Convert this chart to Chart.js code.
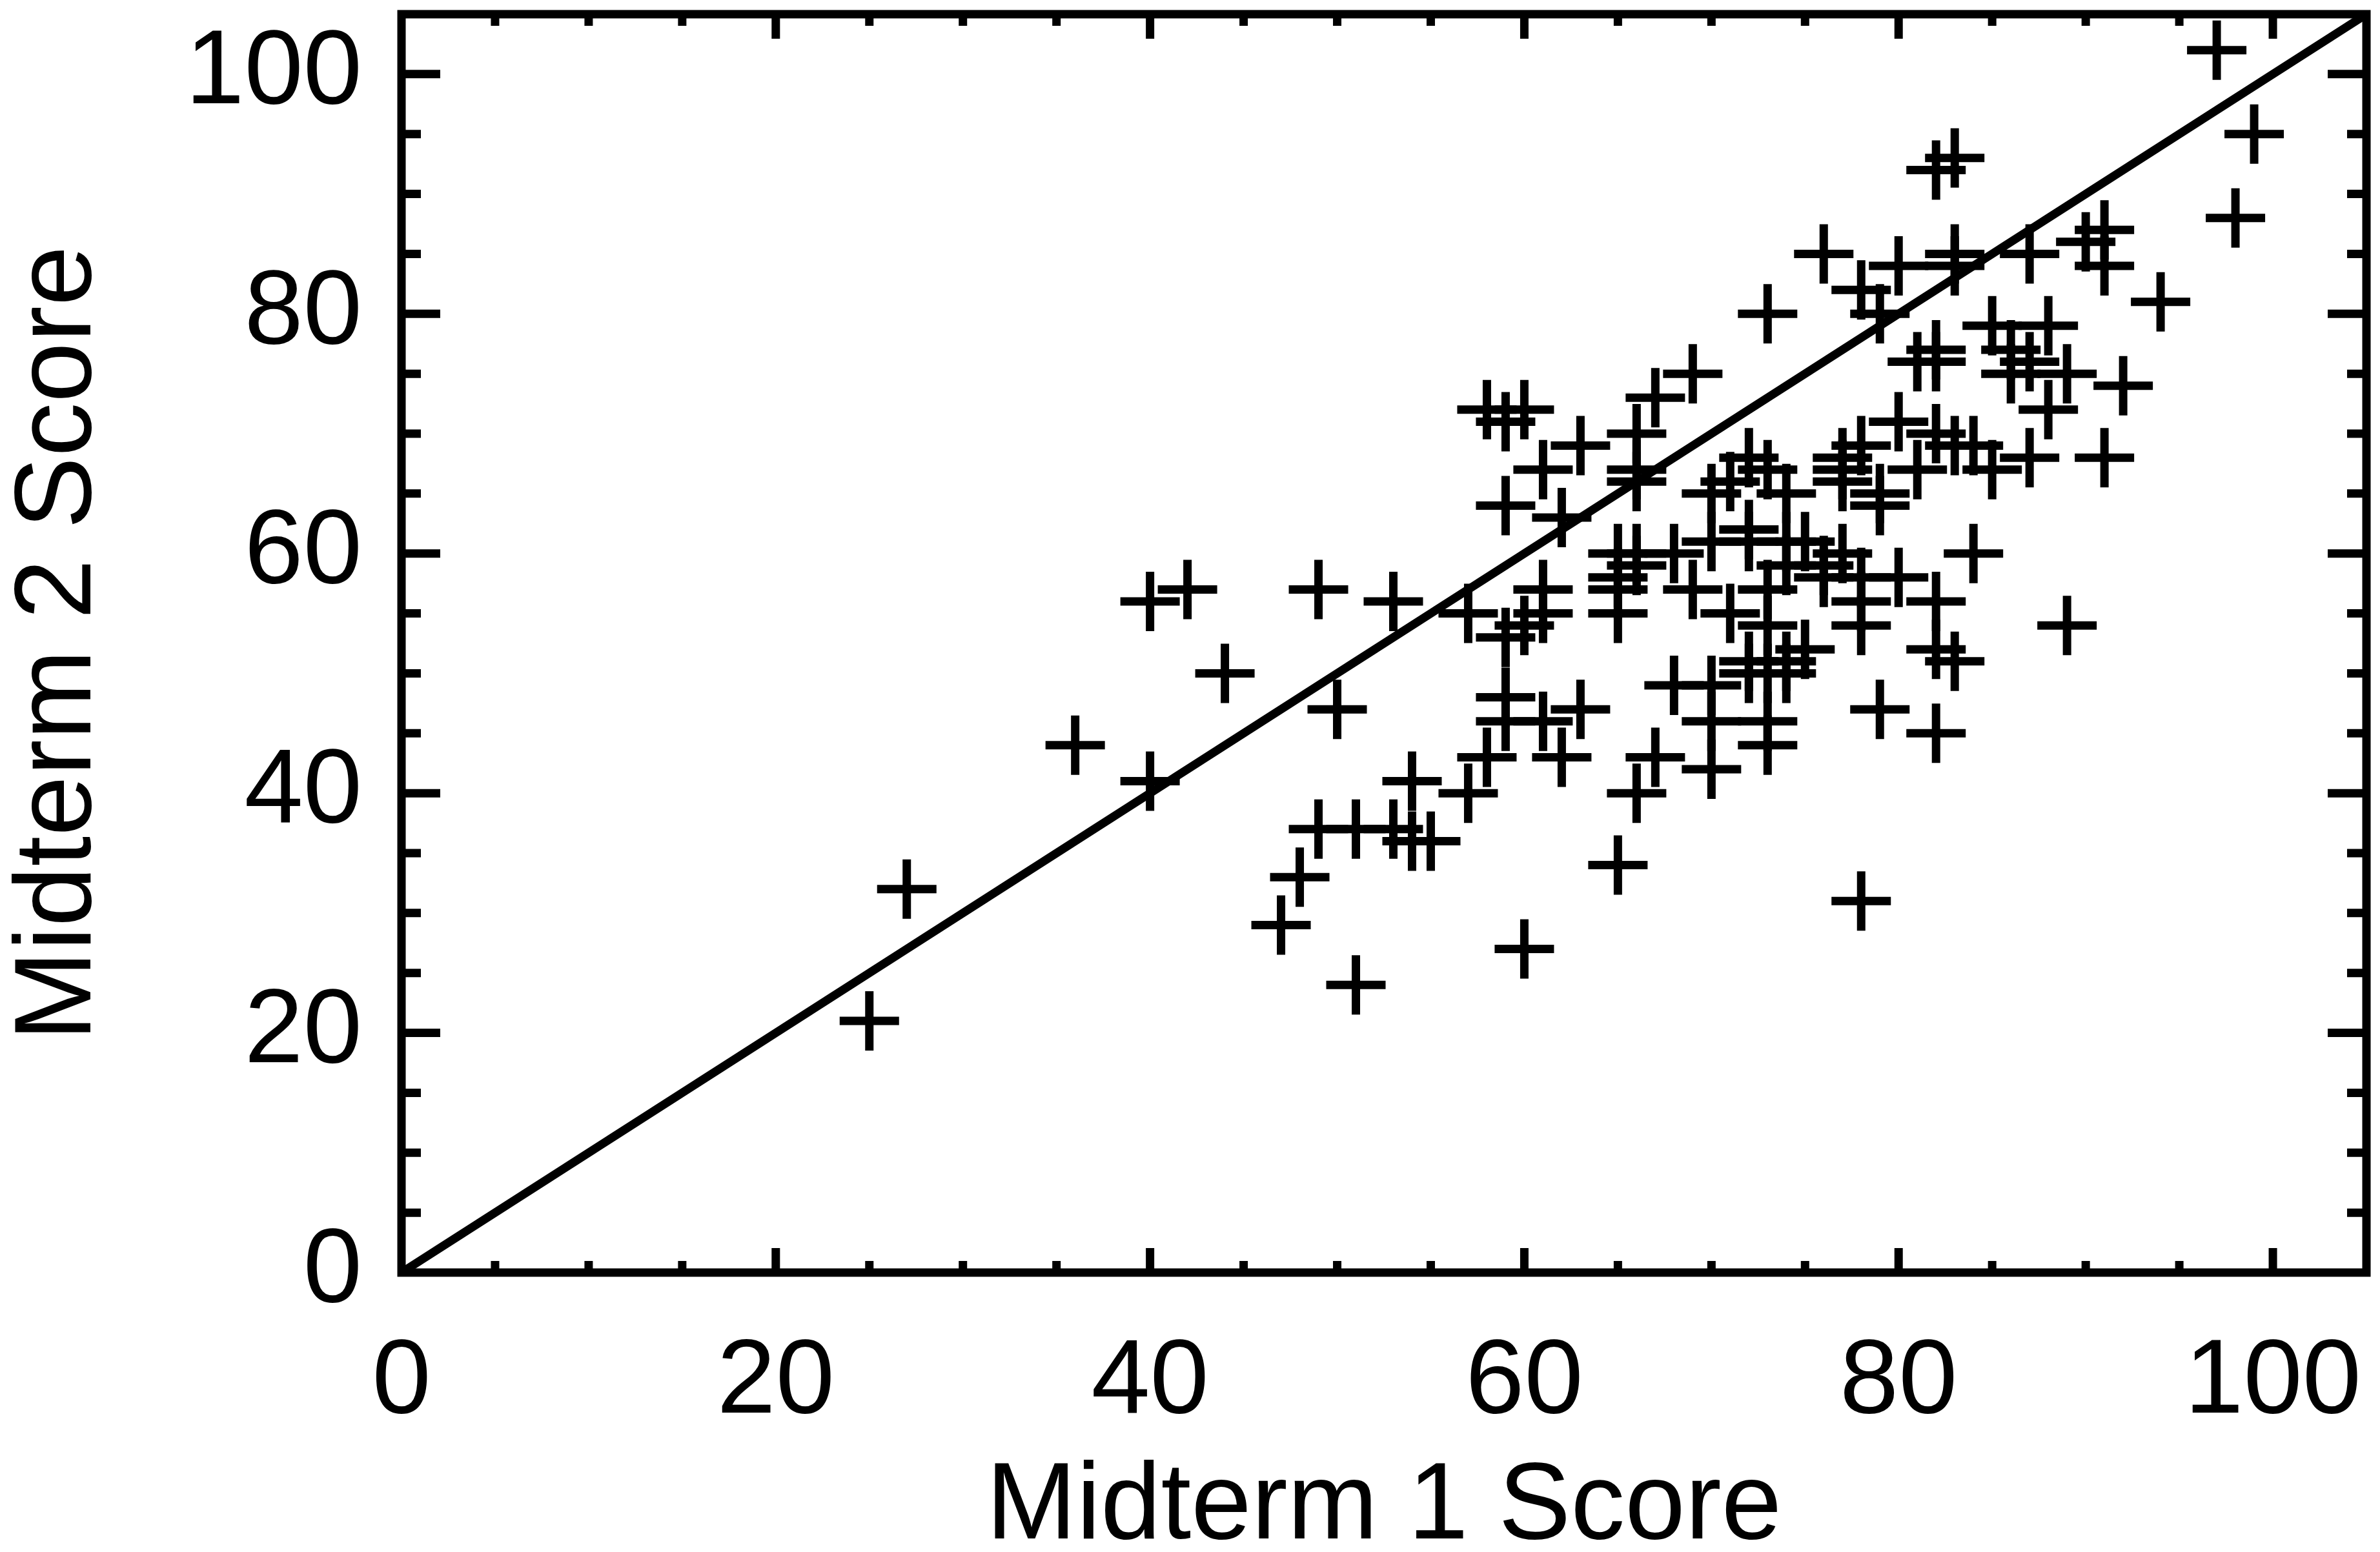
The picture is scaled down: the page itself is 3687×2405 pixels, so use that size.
<!DOCTYPE html>
<html>
<head>
<meta charset="utf-8">
<title>Midterm 1 vs Midterm 2</title>
<script src="https://cdn.jsdelivr.net/npm/chart.js@4.4.1/dist/chart.umd.min.js"></script>
<style>
  html, body { margin: 0; padding: 0; background: #ffffff; }
  canvas { display: block; }
</style>
</head>
<body>
<canvas id="scoreChart" width="3687" height="2405"></canvas>
<script>
// DATA -----------------------------------------
var midterm1 = [
  25, 27, 36, 40, 42, 40, 44, 49, 50, 53, 47, 48, 49, 51, 53, 54, 55, 54, 51, 57, 60, 65, 78,
  57, 61, 61, 60, 59, 59, 59, 61, 63, 58, 62, 67, 66,
  65, 66, 68, 66, 65, 65, 65, 69, 71,
  68, 70, 70, 73, 70, 73,
  73, 73, 72, 74, 72, 74, 73, 75,
  70, 72, 74, 75, 74, 76, 76, 77, 78, 80, 72,
  58, 60, 59, 63, 61, 66, 66, 66, 59, 62, 67, 69, 73, 76,
  72, 73, 71, 70, 74,
  82, 82, 83, 78, 78, 84, 89, 82, 79,
  80, 78, 77, 77, 77, 79, 79, 82, 83, 84, 81, 85, 87, 91, 88, 92,
  82, 81, 82, 86, 87, 86, 89, 85, 88, 79, 78, 80, 83, 83, 87, 90, 91, 91, 94,
  82, 83, 97, 99, 98
];
var midterm2 = [
  21, 32, 44, 56, 57, 41, 50, 57, 47, 56, 29, 33, 37, 37, 37, 36, 36, 41, 24, 40, 27, 34, 31,
  55, 57, 55, 54, 53, 48, 46, 46, 47, 43, 43, 43, 40,
  60, 60, 60, 59, 58, 57, 55, 57, 55,
  49, 49, 46, 46, 42, 44,
  57, 54, 51, 51, 50, 50, 50, 52,
  61, 61, 61, 61, 59, 59, 58, 60, 58, 58, 62,
  72, 72, 71, 69, 67, 70, 67, 66, 64, 63, 73, 75, 80, 85,
  68, 67, 66, 65, 65,
  56, 52, 51, 56, 54, 60, 54, 45, 47,
  71, 69, 68, 67, 66, 65, 64, 70, 69, 69, 67, 67, 68, 68, 72, 74,
  77, 76, 76, 77, 76, 75, 75, 79, 79, 80, 82, 84, 84, 85, 85, 86, 87, 84, 81,
  92, 93, 102, 95, 88
];

// reference line y = x
var diagonalX = [0, 105];
var diagonalY = [0, 105];

var majorTicks = [0, 20, 40, 60, 80, 100];
var axisMin = 0;
var axisMax = 105;

var fontFamily = "'Liberation Sans', Arial, sans-serif";

// FRAME + INWARD TICKS (IDL style) --------------
var framePlugin = {
  id: 'frame',
  afterDraw: function (chart) {
    var ctx = chart.ctx;
    var area = chart.chartArea;
    var sx = chart.scales.x;
    var sy = chart.scales.y;

    ctx.save();
    ctx.strokeStyle = '#000';
    ctx.lineWidth = 13;
    ctx.lineCap = 'butt';
    ctx.beginPath();
    for (var v = 5; v <= 100; v += 5) {
      var major = majorTicks.indexOf(v) !== -1;
      var lenX = major ? 38 : 18;   // ticks on top / bottom
      var lenY = major ? 60 : 30;   // ticks on left / right
      var px = sx.getPixelForValue(v);
      var py = sy.getPixelForValue(v);
      ctx.moveTo(px, area.bottom); ctx.lineTo(px, area.bottom - lenX);
      ctx.moveTo(px, area.top);    ctx.lineTo(px, area.top + lenX);
      ctx.moveTo(area.left, py);   ctx.lineTo(area.left + lenY, py);
      ctx.moveTo(area.right, py);  ctx.lineTo(area.right - lenY, py);
    }
    ctx.stroke();
    ctx.lineJoin = 'miter';
    ctx.strokeRect(area.left, area.top, area.right - area.left, area.bottom - area.top);
    ctx.restore();
  }
};

// no extra room for the end labels, the frame is fixed
function noEdgePadding(axis) {
  axis.paddingLeft = 0;
  axis.paddingRight = 0;
  axis.paddingTop = 0;
  axis.paddingBottom = 0;
}

// CHART ----------------------------------------
var ctxScore = document.getElementById('scoreChart');

new Chart(ctxScore, {
  type: 'scatter',
  data: {
    datasets: [
      {
        label: 'Midterm 2 = Midterm 1',
        data: diagonalX.map(function (v, i) { return { x: v, y: diagonalY[i] }; }),
        showLine: true,
        borderColor: '#000',
        borderWidth: 13,
        pointRadius: 0,
        fill: false
      },
      {
        label: 'Students',
        data: midterm1.map(function (v, i) { return { x: v, y: midterm2[i] }; }),
        pointStyle: 'cross',
        pointRadius: 46,
        pointHoverRadius: 46,
        pointBorderWidth: 13,
        borderColor: '#000',
        backgroundColor: '#000'
      }
    ]
  },
  options: {
    responsive: false,
    animation: false,
    devicePixelRatio: 1,
    layout: {
      autoPadding: false,
      padding: { left: 0, top: 22, right: 21, bottom: 0 }
    },
    plugins: {
      legend: { display: false },
      tooltip: { enabled: false }
    },
    scales: {
      x: {
        type: 'linear',
        position: 'bottom',
        min: axisMin,
        max: axisMax,
        grid: { display: false, drawTicks: false },
        border: { display: false },
        afterBuildTicks: function (axis) {
          axis.ticks = majorTicks.map(function (v) { return { value: v }; });
        },
        afterFit: function (axis) {
          axis.height = 433;
          noEdgePadding(axis);
        },
        ticks: {
          color: '#000',
          padding: 73,
          maxRotation: 0,
          autoSkip: false,
          font: { family: fontFamily, size: 164 }
        },
        title: {
          display: true,
          text: 'Midterm 1 Score',
          color: '#000',
          font: { family: fontFamily, size: 168, lineHeight: 0.8 },
          padding: 0
        }
      },
      y: {
        type: 'linear',
        position: 'left',
        min: axisMin,
        max: axisMax,
        grid: { display: false, drawTicks: false },
        border: { display: false },
        afterBuildTicks: function (axis) {
          axis.ticks = majorTicks.map(function (v) { return { value: v }; });
        },
        afterFit: function (axis) {
          axis.width = 622;
          noEdgePadding(axis);
        },
        ticks: {
          color: '#000',
          padding: 61,
          autoSkip: false,
          font: { family: fontFamily, size: 164 }
        },
        title: {
          display: true,
          text: 'Midterm 2 Score',
          color: '#000',
          font: { family: fontFamily, size: 168, lineHeight: 0.8 },
          padding: { top: 26, bottom: 0 }
        }
      }
    }
  },
  plugins: [framePlugin]
});
</script>
</body>
</html>
